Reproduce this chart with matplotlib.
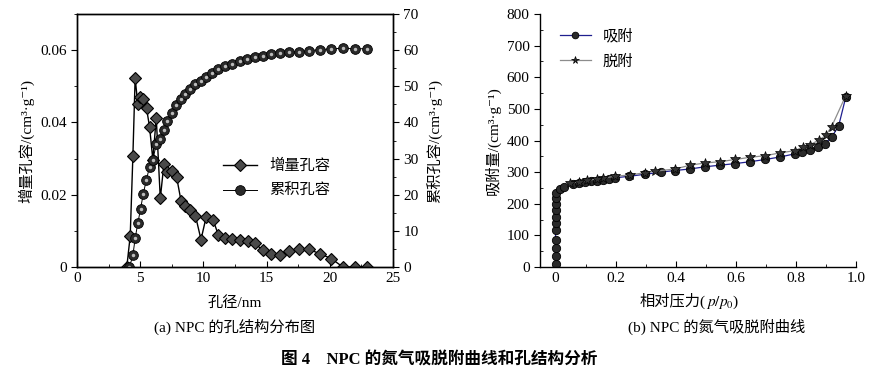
import matplotlib.pyplot as plt
from matplotlib.ticker import MultipleLocator

plt.rcParams['font.family'] = ['Liberation Serif', 'Noto Sans CJK SC', 'DejaVu Serif']
plt.rcParams['font.size'] = 11
plt.rcParams['axes.linewidth'] = 1.0
plt.rcParams['mathtext.fontset'] = 'stix'

# (a) pore size distribution
inc_x = [3.94, 4.21, 4.42, 4.6, 4.81, 5.0, 5.26, 5.5, 5.74, 6.0, 6.27, 6.59, 6.88, 7.14,
         7.54, 7.88, 8.23, 8.57, 8.92, 9.37, 9.81, 10.21, 10.77, 11.19, 11.67, 12.28,
         12.86, 13.49, 14.05, 14.68, 15.37, 16.08, 16.8, 17.54, 18.33, 19.2, 20.13,
         21.03, 21.96, 22.94]
inc_y = [0.0, 0.0086, 0.0306, 0.0523, 0.045, 0.0471, 0.0464, 0.0439, 0.0388, 0.0297,
         0.0413, 0.019, 0.0286, 0.0263, 0.0266, 0.0249, 0.0183, 0.0169, 0.0157, 0.0142,
         0.0076, 0.0137, 0.013, 0.0088, 0.008, 0.0078, 0.0075, 0.0072, 0.0067, 0.0046,
         0.0037, 0.0034, 0.0044, 0.0051, 0.0049, 0.0037, 0.0023, 0.0, 0.0, 0.0]
cum_x = [4.15, 4.42, 4.6, 4.81, 5.03, 5.24, 5.48, 5.74, 6.0, 6.27, 6.59, 6.88, 7.14,
         7.49, 7.83, 8.2, 8.57, 8.92, 9.34, 9.79, 10.21, 10.71, 11.19, 11.72, 12.28,
         12.86, 13.44, 14.05, 14.68, 15.37, 16.06, 16.8, 17.54, 18.33, 19.2, 20.1,
         21.03, 21.96, 22.94]
cum_y = [0.0, 3.2, 7.9, 12.1, 16.1, 20.2, 24.0, 27.7, 29.7, 33.9, 35.5, 38.0, 40.5,
         42.7, 44.8, 46.5, 47.9, 49.3, 50.5, 51.4, 52.6, 53.7, 54.7, 55.6, 56.2, 57.0,
         57.5, 58.0, 58.4, 58.8, 59.1, 59.4, 59.6, 59.9, 60.1, 60.4, 60.5, 60.4, 60.4]

# (b) N2 isotherm
ads_p = [0.0] * 11 + [0.014, 0.028, 0.057, 0.077, 0.097, 0.117, 0.137, 0.159, 0.178,
                      0.198, 0.246, 0.296, 0.35, 0.396, 0.448, 0.498, 0.548, 0.598,
                      0.648, 0.698, 0.748, 0.797, 0.819, 0.848, 0.873, 0.896, 0.919,
                      0.942, 0.966]
ads_v = [10.6, 33.8, 59, 86.5, 118, 139, 158, 181, 200, 219, 235, 248, 253, 263, 265,
         268, 271, 273, 275, 278, 282, 287, 293, 300, 305, 310, 317, 322, 327, 333, 340,
         348, 358, 363, 369, 379, 390, 411, 445, 537]
des_p = [0.966, 0.919, 0.899, 0.876, 0.848, 0.822, 0.797, 0.748, 0.698, 0.648, 0.598,
         0.548, 0.498, 0.448, 0.398, 0.331, 0.296, 0.248, 0.198, 0.159, 0.137, 0.103,
         0.077, 0.048]
des_v = [542, 444, 416, 401, 387, 379, 368, 361, 352, 347, 340, 333, 329, 322, 310,
         303, 298, 291, 287, 281, 278, 274, 269, 265]

unit = '/(cm³·g⁻¹)'

fig = plt.figure(figsize=(8.79, 3.77), dpi=100)

ax1 = fig.add_axes([0.0876, 0.2918, 0.3595, 0.671])
ax2 = ax1.twinx()
l1, = ax1.plot(inc_x, inc_y, color='black', lw=1.0, marker='D', ms=6.5,
               mfc='#4a4a4a', mec='black', mew=0.8, label='增量孔容')
l2, = ax2.plot(cum_x, cum_y, color='black', lw=0.7, marker='o', ms=7,
               mfc='#2a2a2a', mec='black', mew=0.6, label='累积孔容')
ax2.plot(cum_x, cum_y, ls='none', marker='o', ms=2.5, mfc='#bbbbbb', mec='none')
ax1.set_xlim(0, 25)
ax1.set_ylim(0, 0.07)
ax2.set_ylim(0, 70)
ax1.set_xticks([0, 5, 10, 15, 20, 25])
ax1.set_yticks([0, 0.02, 0.04, 0.06])
ax1.set_yticklabels(['0', '0.02', '0.04', '0.06'])
ax1.xaxis.set_minor_locator(MultipleLocator(2.5))
ax1.yaxis.set_minor_locator(MultipleLocator(0.01))
ax2.yaxis.set_major_locator(MultipleLocator(10))
ax2.yaxis.set_minor_locator(MultipleLocator(5))
ax1.tick_params(axis='x', which='both', direction='in', length=4)
ax1.tick_params(axis='x', which='minor', length=2.5)
ax1.tick_params(axis='y', which='major', direction='out', length=4)
ax1.tick_params(axis='y', which='minor', direction='out', length=2.5)
ax2.tick_params(axis='y', which='major', direction='out', length=4)
ax2.tick_params(axis='y', which='minor', direction='out', length=2.5)
ax1.set_xlabel('孔径/nm', labelpad=8)
ax1.set_ylabel('增量孔容' + unit, labelpad=4)
ax2.set_ylabel('累积孔容' + unit, labelpad=6)
ax1.legend(handles=[l1, l2], loc='center left', bbox_to_anchor=(0.42, 0.35),
           frameon=False, handlelength=2.2, labelspacing=0.7, fontsize=11)

ax3 = fig.add_axes([0.6143, 0.2918, 0.3595, 0.671])
l3, = ax3.plot(ads_p, ads_v, color='#1f1f8f', lw=0.9, marker='o', ms=6,
               mfc='#2a2a2a', mec='black', mew=0.6, label='吸附')
l4, = ax3.plot(des_p, des_v, color='#8c8c8c', lw=0.9, marker='*', ms=7,
               mfc='#333333', mec='black', mew=0.5, label='脱附')
ax3.set_xlim(-0.052, 1.0)
ax3.set_ylim(0, 800)
ax3.set_xticks([0, 0.2, 0.4, 0.6, 0.8, 1.0])
ax3.set_xticklabels(['0', '0.2', '0.4', '0.6', '0.8', '1.0'])
ax3.xaxis.set_minor_locator(MultipleLocator(0.1))
ax3.yaxis.set_major_locator(MultipleLocator(100))
ax3.yaxis.set_minor_locator(MultipleLocator(50))
ax3.spines['top'].set_visible(False)
ax3.spines['right'].set_visible(False)
ax3.tick_params(axis='x', which='both', direction='in', length=4)
ax3.tick_params(axis='x', which='minor', length=2.5)
ax3.tick_params(axis='y', which='major', direction='out', length=4)
ax3.tick_params(axis='y', which='minor', direction='in', length=2.5)
ax3.set_ylabel('吸附量' + unit, labelpad=4)
# x label split: Chinese part + math part
ax3.text(0.525, -0.152, '相对压力(', transform=ax3.transAxes, ha='right', va='baseline')
ax3.text(0.525, -0.152, '$p/p_0$)', transform=ax3.transAxes, ha='left', va='baseline')
ax3.legend(handles=[l3, l4], loc='upper left', bbox_to_anchor=(0.02, 0.995),
           frameon=False, handlelength=2.0, labelspacing=0.7, fontsize=11,
           markerscale=0.8)

fig.text(0.267, 0.133, '(a) NPC 的孔结构分布图', ha='center', va='center', fontsize=11)
fig.text(0.815, 0.133, '(b) NPC 的氮气吸脱附曲线', ha='center', va='center', fontsize=11)
fig.text(0.5, 0.045, '图 4    NPC 的氮气吸脱附曲线和孔结构分析', ha='center', va='center',
         fontsize=12, fontweight='bold')

fig.savefig('out.png', dpi=100)
